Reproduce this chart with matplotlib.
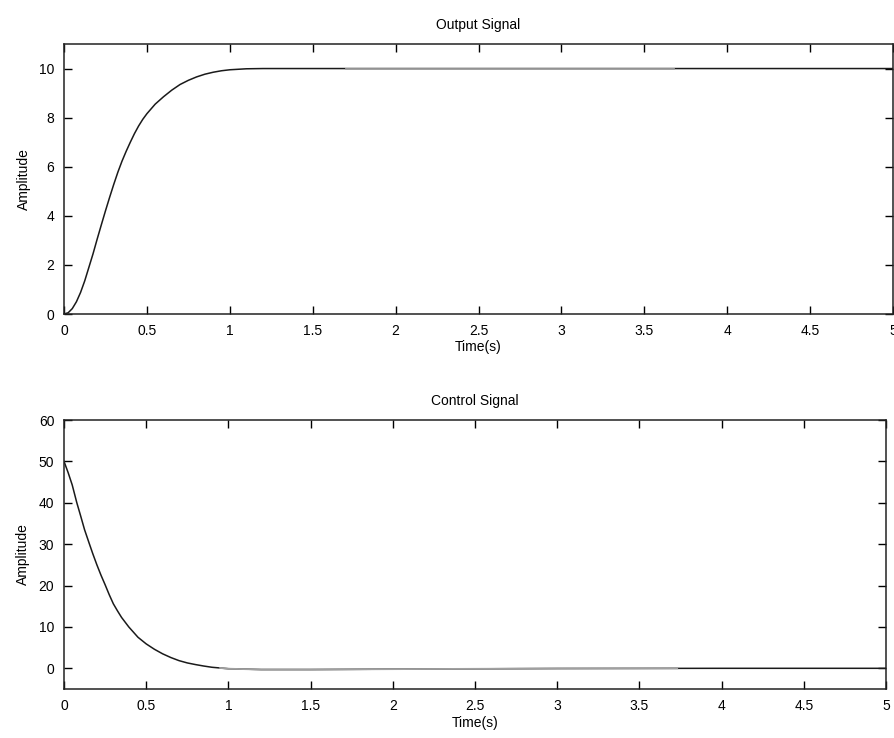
import numpy as np
import matplotlib
matplotlib.use("Agg")
import matplotlib.pyplot as plt
from matplotlib.ticker import FormatStrFormatter

# values
t_out = [0, 0.025, 0.05, 0.075, 0.1, 0.125, 0.15, 0.175, 0.2, 0.225, 0.25, 0.275, 0.3, 0.325,
         0.35, 0.375, 0.4, 0.425, 0.45, 0.475, 0.5, 0.55, 0.6, 0.65, 0.7, 0.75, 0.8, 0.85,
         0.9, 0.95, 1.0, 1.1, 1.2, 1.5, 2, 3, 4, 5]
y_out = [0, 0.05, 0.22, 0.5, 0.88, 1.35, 1.9, 2.45, 3.05, 3.63, 4.2, 4.75, 5.28, 5.78,
         6.23, 6.63, 7.0, 7.35, 7.66, 7.93, 8.16, 8.55, 8.85, 9.12, 9.35, 9.52, 9.66, 9.77,
         9.85, 9.91, 9.95, 9.99, 10.0, 10.0, 10.0, 10.0, 10.0, 10.0]

t_ctl = [0, 0.025, 0.05, 0.078, 0.1, 0.125, 0.155, 0.175, 0.2, 0.225, 0.25, 0.275, 0.3,
         0.325, 0.35, 0.394, 0.45, 0.5, 0.55, 0.6, 0.65, 0.7, 0.75, 0.8, 0.85, 0.9,
         1.0, 1.2, 1.5, 2, 3, 4, 5]
u_ctl = [50, 47.3, 44.3, 40, 37, 33.5, 30, 27.7, 25, 22.5, 20.2, 17.8, 15.6,
         13.9, 12.3, 10, 7.5, 5.9, 4.6, 3.5, 2.6, 1.85, 1.3, 0.9, 0.55, 0.25,
         -0.1, -0.3, -0.3, -0.2, -0.05, 0, 0]

xticks = np.arange(0, 5.01, 0.5)

# faded stretch of the trace as it looks in the scan
fade_out = (1.7, 3.68)
fade_ctl = (0.95, 3.73)

plt.rcParams['font.family'] = ['Liberation Sans', 'DejaVu Sans']
plt.rcParams['font.size'] = 10

fig = plt.figure(figsize=(8.94, 7.38), dpi=100)
ax1 = fig.add_axes([64/894, 1-314/738, 829/894, 270/738])
ax2 = fig.add_axes([64/894, 1-689/738, 822/894, 269/738])


def draw(ax, t, v, fade):
  t = np.asarray(t)
  v = np.asarray(v)
  ax.plot(t, v, color='#1a1a1a', lw=1.1)
  m = (t >= fade[0]) & (t <= fade[1])
  tf = np.concatenate(([fade[0]], t[m], [fade[1]]))
  vf = np.interp(tf, t, v)
  ax.plot(tf, vf, color='#a0a0a0', lw=1.3)


def style(ax, title):
  ax.set_xlim(0, 5)
  ax.set_xticks(xticks)
  ax.xaxis.set_major_formatter(FormatStrFormatter('%g'))
  ax.tick_params(direction='in', top=True, right=True, length=6, width=1, pad=7)
  for s in ax.spines.values():
    s.set_linewidth(1.1)
    s.set_color('#222222')
  ax.set_title(title, pad=11, fontsize=10)
  ax.set_xlabel('Time(s)', labelpad=2)
  ax.set_ylabel('Amplitude', labelpad=6)


draw(ax1, t_out, y_out, fade_out)
style(ax1, 'Output Signal')
ax1.set_ylim(0, 11)
ax1.set_yticks(np.arange(0, 11, 2))

draw(ax2, t_ctl, u_ctl, fade_ctl)
style(ax2, 'Control Signal')
ax2.set_ylim(-5, 60)
ax2.set_yticks(np.arange(0, 61, 10))

fig.savefig('out.png', dpi=100)
